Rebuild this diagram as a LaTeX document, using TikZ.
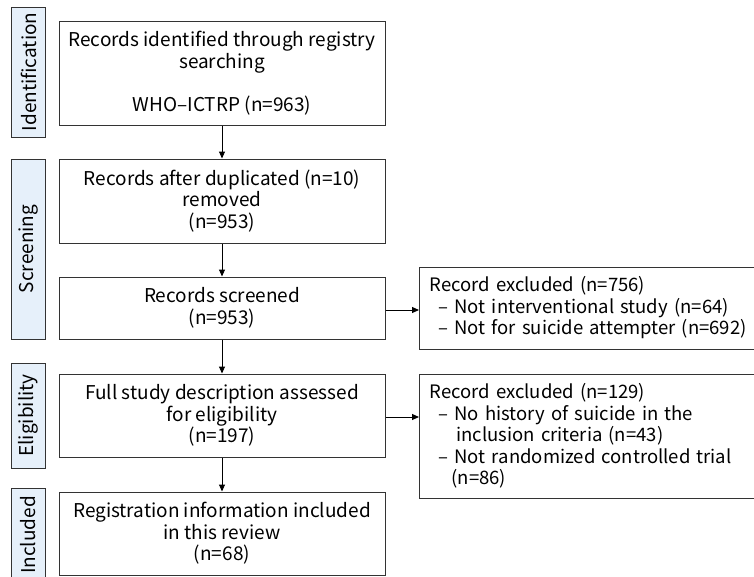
\documentclass[tikz,border=0pt]{standalone}
\usepackage{fontspec}
\setmainfont{Noto Sans CJK KR}
\usepackage{tikz}
\usepackage{xcolor}
\usetikzlibrary{calc,arrows.meta,positioning}
\definecolor{stagefill}{HTML}{E6F0FA}
\definecolor{edgegray}{HTML}{333333}

\begin{document}
\begin{tikzpicture}[
    x=1pt, y=1pt,
    font=\fontsize{19}{21.5}\selectfont,
    flowbox/.style={draw=edgegray, line width=1pt, align=center, inner sep=0pt},
    exclbox/.style={draw=edgegray, line width=1pt, align=left, inner xsep=10pt,
      text width=380pt, anchor=west, font=\fontsize{18.5}{21.5}\selectfont},
    stagebox/.style={draw=edgegray, line width=1pt, fill=stagefill, rotate=90,
      minimum height=34pt, inner sep=0pt},
    flowarrow/.style={-{Triangle[length=7pt,width=6pt]}, line width=1pt, draw=black}
  ]
  \useasboundingbox (0,0) rectangle (754,-576);
  \clip (0,0) rectangle (754,-576);

  % stage labels
  \node[stagebox, minimum width=130pt] (identlab) at (28.5,-72) {Identification};
  \node[stagebox, minimum width=180pt] (screenlab) at (28.5,-249) {Screening};
  \node[stagebox, minimum width=105pt] (eliglab) at (28.5,-415.5) {Eligibility};
  \node[stagebox, minimum width=94pt] (incllab) at (28.5,-535) {Included};

  % main column
  \node[flowbox, minimum width=326pt, minimum height=104pt] (identified) at (222,-73)
    {Records identified through registry\\searching\\[21.5pt]WHO–ICTRP (n=963)};
  \node[flowbox, minimum width=326pt, minimum height=84pt] (dedup) at (222,-201)
    {Records after duplicated (n=10)\\removed\\(n=953)};
  \node[flowbox, minimum width=326pt, minimum height=62pt] (screened) at (222,-308)
    {Records screened\\(n=953)};
  \node[flowbox, minimum width=326pt, minimum height=83pt] (assessed) at (222,-415.5)
    {Full study description assessed\\for eligibility\\(n=197)};
  \node[flowbox, minimum width=326pt, minimum height=83pt] (included) at (222,-533.5)
    {Registration information included\\in this review\\(n=68)};

  % exclusions
  \node[exclbox, minimum height=82pt] (exclA) at (419,-308)
    {Record excluded (n=756)\\
     \hspace*{9pt}– Not interventional study (n=64)\\
     \hspace*{9pt}– Not for suicide attempter (n=692)};
  \node[exclbox, minimum height=124pt] (exclB) at (419,-436)
    {Record excluded (n=129)\\
     \hspace*{9pt}– No history of suicide in the\\
     \hspace*{27pt}inclusion criteria (n=43)\\
     \hspace*{9pt}– Not randomized controlled trial\\
     \hspace*{22pt}(n=86)};

  % connectors
  \draw[flowarrow] (identified) -- (dedup);
  \draw[flowarrow] (dedup) -- (screened);
  \draw[flowarrow] (screened) -- (assessed);
  \draw[flowarrow] (assessed) -- (included);
  \draw[flowarrow] ([yshift=-2pt]screened.east) -- ([yshift=-2pt]screened.east -| exclA.west);
  \draw[flowarrow] ([yshift=-1.5pt]assessed.east) -- ([yshift=-1.5pt]assessed.east -| exclB.west);
\end{tikzpicture}
\end{document}
